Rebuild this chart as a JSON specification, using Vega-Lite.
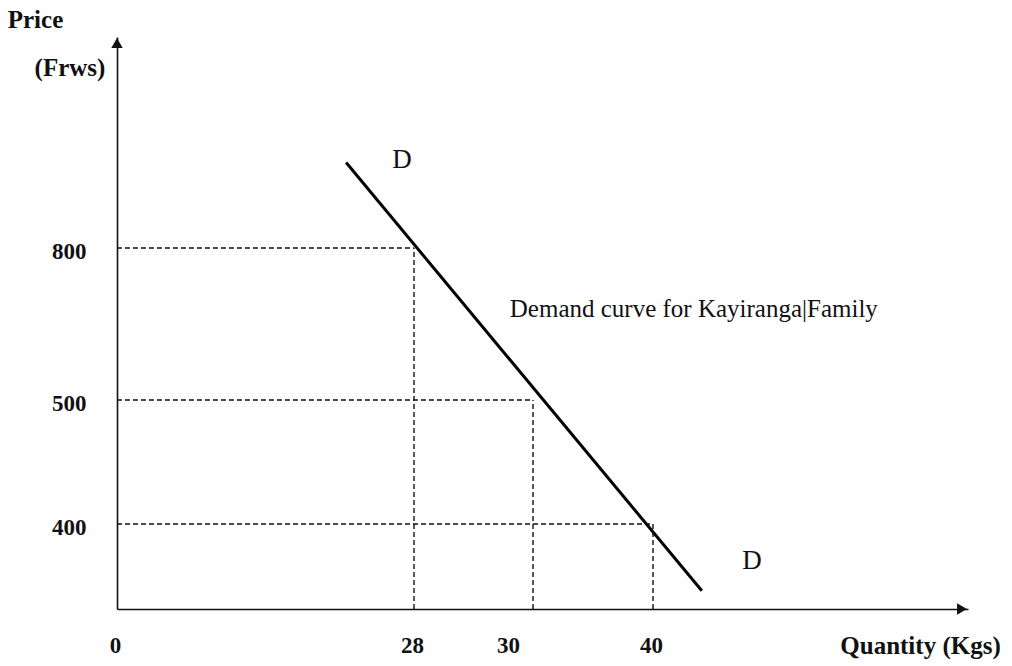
{
  "$schema": "https://vega.github.io/schema/vega-lite/v6.json",
  "width": 851,
  "height": 572,
  "autosize": {"type": "none"},
  "padding": {"left": 117, "top": 37, "right": 44, "bottom": 57},
  "background": "white",
  "config": {
    "view": {"stroke": null},
    "font": "Liberation Serif",
    "axis": {
      "grid": false,
      "ticks": false,
      "tickSize": 0,
      "domainColor": "#111111",
      "domainWidth": 1.6,
      "labelColor": "#111111",
      "labelFont": "Liberation Serif",
      "labelFontSize": 23,
      "labelFontWeight": "bold",
      "titleFont": "Liberation Serif",
      "titleFontSize": 25,
      "titleFontWeight": "bold",
      "titleColor": "#111111"
    }
  },
  "datasets": {
    "points": [
      {"quantity": 28, "price": 800},
      {"quantity": 30, "price": 500},
      {"quantity": 40, "price": 400}
    ],
    "demand": [
      {"quantity": 21.6, "price": 962},
      {"quantity": 41.55, "price": 86}
    ],
    "dlabels": [
      {"label": "D", "quantity": 26.87, "price": 967},
      {"label": "D", "quantity": 43.14, "price": 226}
    ],
    "curvelabel": [
      {"label": "Demand curve for Kayiranga|Family", "quantity": 29.61, "price": 680}
    ],
    "unit": [
      {"label": "(Frws)", "quantity": -4.43, "price": 1141}
    ],
    "yarrow": [{"quantity": 0, "price": 1200}],
    "xarrow": [{"quantity": 50, "price": 0}]
  },
  "encoding": {
    "x": {
      "field": "quantity",
      "type": "quantitative",
      "scale": {"domain": [0, 28, 30, 40, 50], "range": [0, 297, 416, 536, 851], "zero": false, "nice": false},
      "axis": {
        "values": [0, 28, 30, 40],
        "labelFlush": false,
        "labelOverlap": false,
        "labelBound": false,
        "labelPadding": 36,
        "labelBaseline": "middle",
        "labelOffset": {"condition": {"test": "datum.value === 30", "value": -25}, "value": -2},
        "title": "Quantity (Kgs)",
        "titleX": 803,
        "titleY": 36,
        "titleAlign": "center",
        "titleBaseline": "middle"
      }
    },
    "y": {
      "field": "price",
      "type": "quantitative",
      "scale": {"domain": [0, 400, 500, 800, 1200], "range": [572, 487, 363, 211, 0], "zero": false, "nice": false},
      "axis": {
        "values": [400, 500, 800],
        "labelPadding": 31,
        "labelOffset": 3,
        "labelOverlap": false,
        "title": "Price",
        "titleAngle": 0,
        "titleX": -82,
        "titleY": -18,
        "titleAlign": "center",
        "titleBaseline": "middle"
      }
    }
  },
  "layer": [
    {
      "data": {"name": "points"},
      "mark": {"type": "rule", "strokeDash": [5, 3], "strokeWidth": 1.4, "color": "#111111"},
      "encoding": {
        "x": {"datum": 0, "type": "quantitative"},
        "x2": {"field": "quantity"}
      }
    },
    {
      "data": {"name": "points"},
      "mark": {"type": "rule", "strokeDash": [5, 3], "strokeWidth": 1.4, "color": "#111111"},
      "encoding": {
        "y": {"datum": 0, "type": "quantitative"},
        "y2": {"field": "price"}
      }
    },
    {
      "data": {"name": "demand"},
      "mark": {"type": "line", "color": "#000000", "strokeWidth": 3},
      "encoding": {}
    },
    {
      "data": {"name": "dlabels"},
      "mark": {"type": "text", "font": "Liberation Serif", "fontSize": 27, "color": "#111111", "align": "center", "baseline": "middle"},
      "encoding": {"text": {"field": "label"}}
    },
    {
      "data": {"name": "curvelabel"},
      "mark": {"type": "text", "font": "Liberation Serif", "fontSize": 25, "color": "#111111", "align": "left", "baseline": "middle"},
      "encoding": {"text": {"field": "label"}}
    },
    {
      "data": {"name": "unit"},
      "mark": {"type": "text", "font": "Liberation Serif", "fontSize": 25, "fontWeight": "bold", "color": "#111111", "align": "center", "baseline": "middle"},
      "encoding": {"text": {"field": "label"}}
    },
    {
      "data": {"name": "yarrow"},
      "mark": {"type": "point", "shape": "triangle-up", "filled": true, "size": 130, "color": "#111111", "opacity": 1, "yOffset": 6},
      "encoding": {}
    },
    {
      "data": {"name": "xarrow"},
      "mark": {"type": "point", "shape": "triangle-right", "filled": true, "size": 130, "color": "#111111", "opacity": 1, "xOffset": -6},
      "encoding": {}
    }
  ]
}
